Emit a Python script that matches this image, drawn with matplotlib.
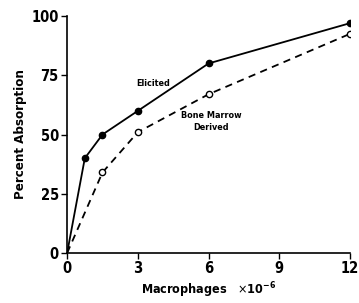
import matplotlib
matplotlib.use('Agg')
import matplotlib.pyplot as plt

plt.rcParams['font.family'] = ['DejaVu Sans']
plt.rcParams['font.stretch'] = 'condensed'

# macrophages (x 10^-6) vs percent absorption
elicited_x = [0, 0.75, 1.5, 3, 6, 12]
elicited_y = [0, 40, 50, 60, 80, 97]
marrow_x = [0, 1.5, 3, 6, 12]
marrow_y = [0, 34, 51, 67, 92.5]

x_ticks = [0, 3, 6, 9, 12]
y_ticks = [0, 25, 50, 75, 100]

fig = plt.figure(figsize=(3.59, 3.03), dpi=100)
ax = fig.add_axes([0.187, 0.165, 0.788, 0.782])

ax.plot(elicited_x, elicited_y, '-', color='black', lw=1.3,
        marker='o', markersize=4.5, markevery=list(range(1, len(elicited_x))))
ax.plot(marrow_x, marrow_y, '--', color='black', lw=1.3, dashes=(4, 3),
        marker='o', markersize=4.5, markerfacecolor='white',
        markevery=list(range(1, len(marrow_x))))

ax.text(2.95, 71.7, 'Elicited', fontsize=6.5, weight='bold', ha='left', va='center')
ax.text(6.1, 55.5, 'Bone Marrow\nDerived', fontsize=6.5, weight='bold',
        ha='center', va='center', linespacing=1.3)

ax.set_xlim(0, 12)
ax.set_ylim(0, 100)
ax.set_xticks(x_ticks)
ax.set_yticks(y_ticks)
ax.tick_params(direction='out', length=4, width=1, labelsize=10.5, pad=2)
for lab in ax.get_xticklabels() + ax.get_yticklabels():
    lab.set_fontweight('bold')
ax.spines['top'].set_visible(False)
ax.spines['right'].set_visible(False)
ax.spines['left'].set_linewidth(1.2)
ax.spines['bottom'].set_linewidth(1.2)

ax.set_xlabel(r'Macrophages   $\times\mathregular{10^{-6}}$', fontsize=9,
              weight='bold', labelpad=3)
ax.set_ylabel('Percent Absorption', fontsize=9.5, weight='bold', labelpad=3)

fig.savefig('out.png', dpi=100)
